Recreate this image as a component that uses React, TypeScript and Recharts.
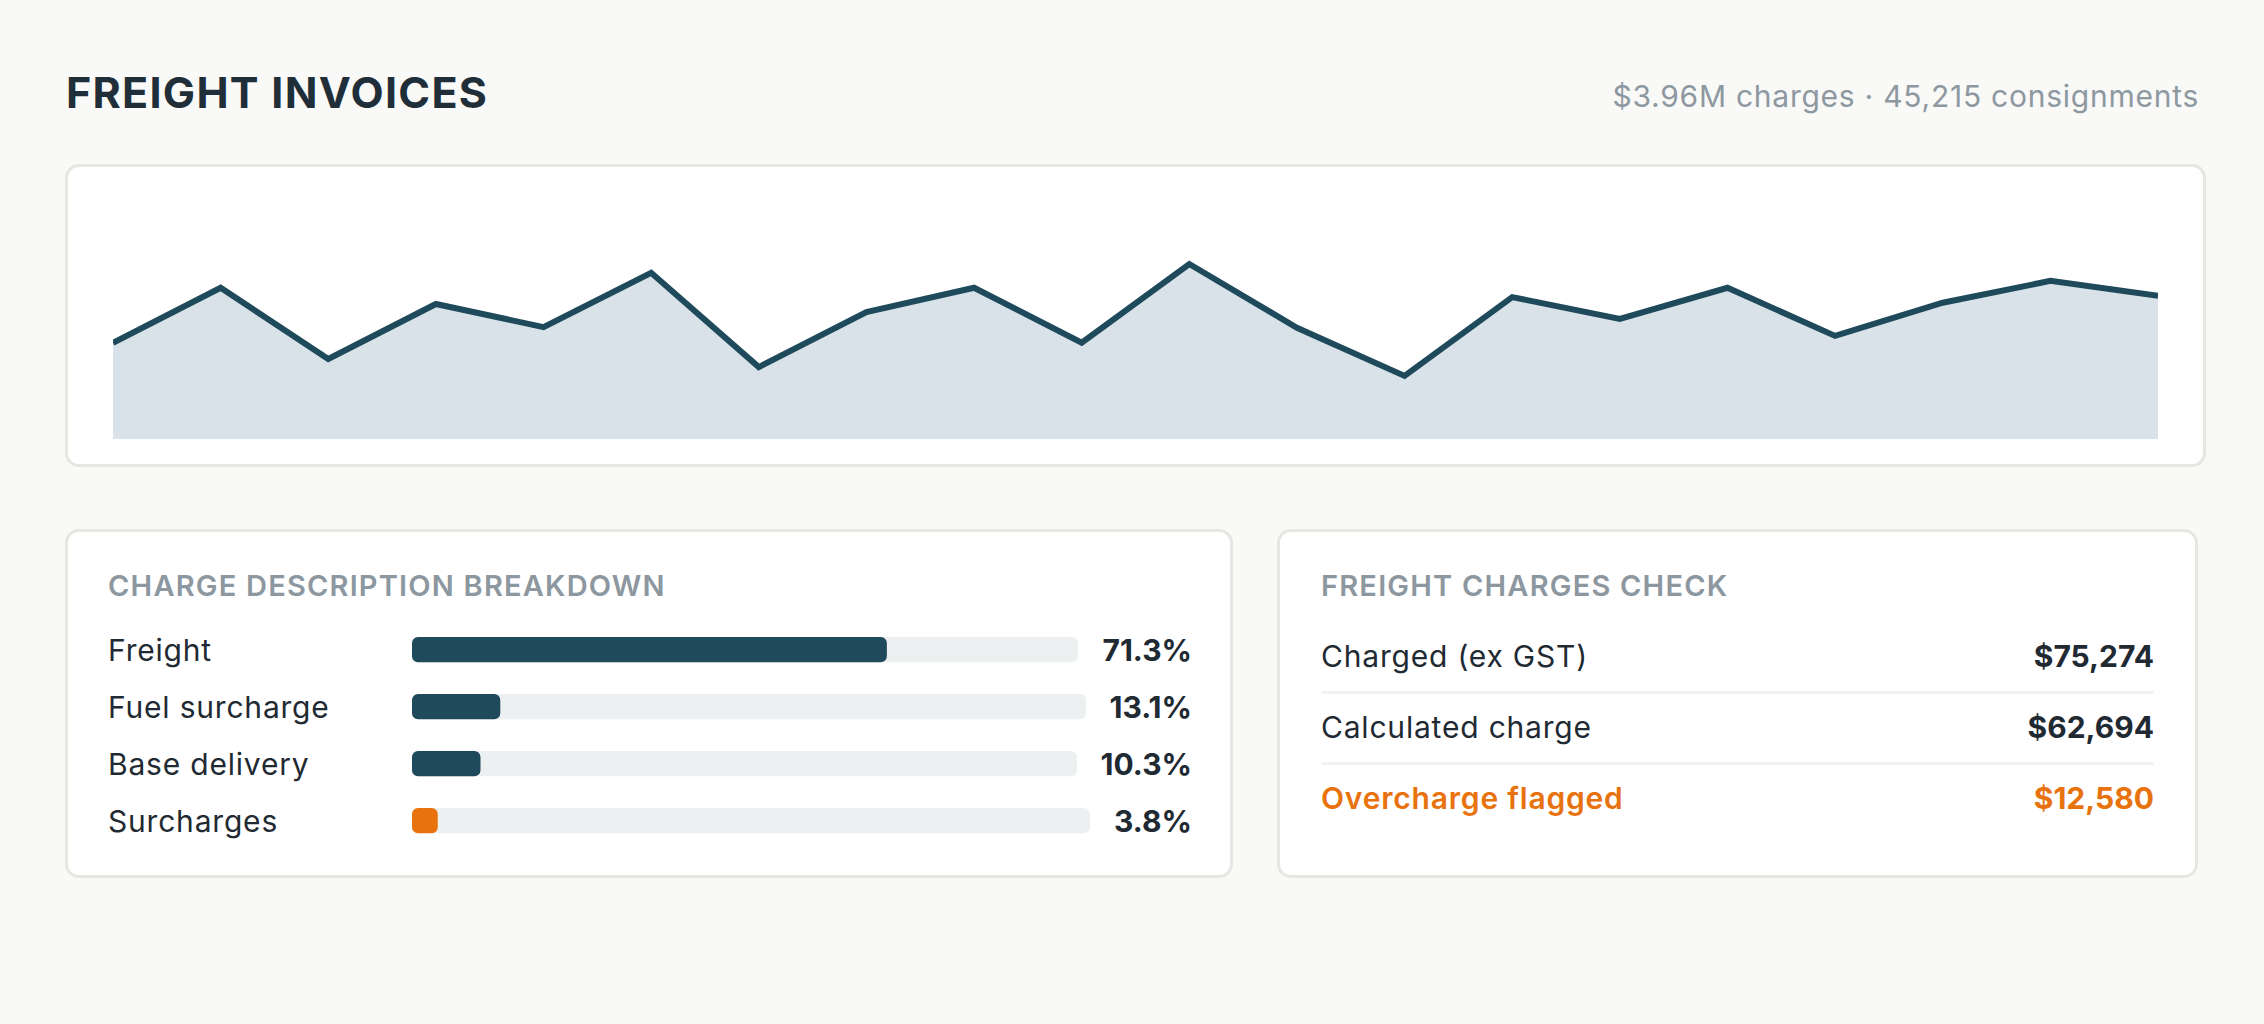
import { AreaChart, Area, XAxis, YAxis, BarChart, Bar, ResponsiveContainer } from 'recharts';

// Weekly freight charges ($k)
const weeks = ['W1', 'W2', 'W3', 'W4', 'W5', 'W6', 'W7', 'W8', 'W9', 'W10', 'W11', 'W12', 'W13', 'W14', 'W15', 'W16', 'W17', 'W18', 'W19', 'W20'];
const weeklyCharges = [154, 242, 128, 216, 179, 266, 115, 203, 242, 154, 280, 178, 101, 227, 192, 242, 165, 218, 253, 229];

const chargeTypes = ['Freight', 'Fuel surcharge', 'Base delivery', 'Surcharges'];
const chargeShares = [71.3, 13.1, 10.3, 3.8];
const chargeFlags = [false, false, false, true];

const checkLabels = ['Charged (ex GST)', 'Calculated charge', 'Overcharge flagged'];
const checkValues = ['$75,274', '$62,694', '$12,580'];

const FONT = 'Inter, "Noto Sans", sans-serif';
const DARK = '#1e4a5c';
const ORANGE = '#e8730e';
const TEXT = '#1f2a33';
const MUTED = '#8d979f';

const trendData = weeks.map((w, i) => ({ week: w, charges: weeklyCharges[i] }));

const card: React.CSSProperties = {
  position: 'absolute',
  boxSizing: 'border-box',
  background: '#ffffff',
  border: '3px solid #e6e6e2',
  borderRadius: 14,
};

const heading: React.CSSProperties = {
  fontSize: 29,
  lineHeight: '29px',
  fontWeight: 600,
  color: MUTED,
  letterSpacing: 1.2,
};

function ShareRow({ label, share, flagged, last }: { label: string; share: number; flagged: boolean; last: boolean }) {
  return (
    <div style={{ display: 'flex', alignItems: 'center', height: 28, marginBottom: last ? 0 : 29 }}>
      <div style={{ width: 304, flex: 'none', fontSize: 30, lineHeight: '30px', color: TEXT, letterSpacing: 0.8 }}>{label}</div>
      <div style={{ flex: 1, minWidth: 0, height: 28 }}>
        <ResponsiveContainer width="100%" height={28}>
          <BarChart data={[{ name: label, value: share }]} layout="vertical" margin={{ top: 0, right: 0, bottom: 0, left: 0 }} barCategoryGap={0}>
            <XAxis type="number" domain={[0, 100]} hide />
            <YAxis type="category" dataKey="name" hide />
            <Bar
              dataKey="value"
              fill={flagged ? ORANGE : DARK}
              radius={6}
              barSize={28}
              background={{ fill: '#edf0f1', radius: 6 }}
              isAnimationActive={false}
            />
          </BarChart>
        </ResponsiveContainer>
      </div>
      <div style={{ marginLeft: 24, fontSize: 30, lineHeight: '30px', fontWeight: 700, color: TEXT, whiteSpace: 'nowrap', textAlign: 'right' }}>
        {share.toFixed(1)}%
      </div>
    </div>
  );
}

export default function App() {
  return (
    <div style={{ position: 'absolute', left: 0, top: 0, width: 2264, height: 1024, background: '#f9f9f7', fontFamily: FONT, overflow: 'hidden' }}>
      <div style={{ position: 'absolute', left: 66, top: 71, fontSize: 43, lineHeight: '43px', fontWeight: 700, color: '#1f2e38', letterSpacing: 1.3 }}>
        FREIGHT INVOICES
      </div>
      <div style={{ position: 'absolute', right: 65, top: 81, fontSize: 30, lineHeight: '30px', color: '#8d98a1', letterSpacing: 0.75 }}>
        $3.96M charges · 45,215 consignments
      </div>

      <div style={{ ...card, left: 65, top: 164, width: 2141, height: 303 }} />
      <div style={{ position: 'absolute', left: 113, top: 189 }}>
        <AreaChart width={2045} height={250} data={trendData} margin={{ top: 0, right: 0, bottom: 0, left: 0 }}>
          <XAxis dataKey="week" hide padding={{ left: 0, right: 0 }} />
          <YAxis domain={[0, 400]} hide />
          <Area
            type="linear"
            dataKey="charges"
            stroke={DARK}
            strokeWidth={6}
            strokeLinejoin="miter"
            fill="#d9e2e8"
            fillOpacity={1}
            dot={false}
            activeDot={false}
            isAnimationActive={false}
          />
        </AreaChart>
      </div>

      <div style={{ ...card, left: 65, top: 529, width: 1168, height: 349, padding: '39px 38px 0 40px' }}>
        <div style={{ ...heading, marginBottom: 36 }}>CHARGE DESCRIPTION BREAKDOWN</div>
        {chargeTypes.map((t, i) => (
          <ShareRow key={t} label={t} share={chargeShares[i]} flagged={chargeFlags[i]} last={i === chargeTypes.length - 1} />
        ))}
      </div>

      <div style={{ ...card, left: 1277, top: 529, width: 921, height: 349, padding: '39px 41px 0 41px' }}>
        <div style={{ ...heading, marginBottom: 23 }}>FREIGHT CHARGES CHECK</div>
        {checkLabels.map((l, i) => {
          const last = i === checkLabels.length - 1;
          const color = last ? ORANGE : TEXT;
          return (
            <div
              key={l}
              style={{
                display: 'flex',
                justifyContent: 'space-between',
                padding: '18px 0 20px',
                borderBottom: last ? 'none' : '3px solid #f1f2f2',
                fontSize: 30,
                lineHeight: '30px',
                color,
              }}
            >
              <span style={{ fontWeight: last ? 600 : 400, letterSpacing: 0.8 }}>{l}</span>
              <span style={{ fontWeight: 700 }}>{checkValues[i]}</span>
            </div>
          );
        })}
      </div>
    </div>
  );
}
